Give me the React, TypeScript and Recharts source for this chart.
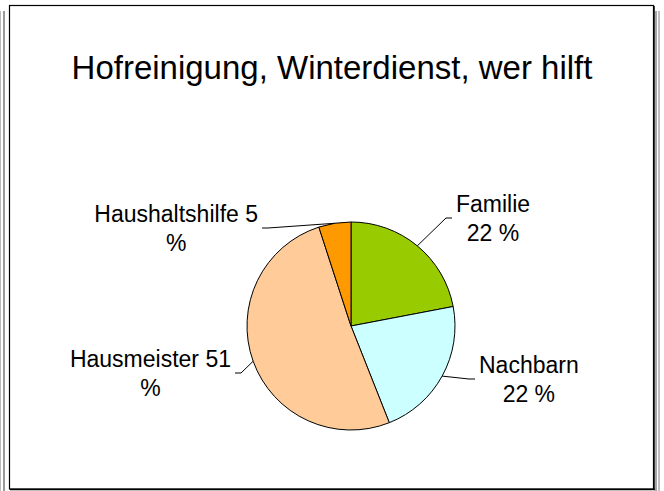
import React from "react";
import { PieChart, Pie, Cell } from "recharts";

const categories = ["Familie", "Nachbarn", "Hausmeister", "Haushaltshilfe"];
const shares = [22, 22, 51, 5];
const sliceColors = ["#99CC00", "#CCFFFF", "#FFCC99", "#FF9900"];
const title = "Hofreinigung, Winterdienst, wer hilft";

const data = categories.map((name, i) => ({ name, value: shares[i] }));

// where each leader line ends (relative to the pie centre) and how wide the label may get before wrapping
const labelLayout = [
  { dx: 101, dy: -108, wrap: 90 },
  { dx: 124, dy: 53, wrap: 115 },
  { dx: -116, dy: 47, wrap: 175 },
  { dx: -89, dy: -98, wrap: 178 },
];

const FONT = "'Liberation Sans', Arial, Helvetica, sans-serif";
const LABEL_SIZE = 23;
const RAD = Math.PI / 180;

let ctx: CanvasRenderingContext2D | null = null;
function measure(s: string) {
  if (!ctx) ctx = document.createElement("canvas").getContext("2d");
  if (!ctx) return s.length * LABEL_SIZE * 0.5;
  ctx.font = `${LABEL_SIZE}px ${FONT}`;
  return ctx.measureText(s).width;
}

function wrap(s: string, max: number) {
  const words = s.split(" ");
  const lines: string[] = [];
  let cur = "";
  for (const w of words) {
    const next = cur ? cur + " " + w : w;
    if (cur && measure(next) > max) {
      lines.push(cur);
      cur = w;
    } else cur = next;
  }
  if (cur) lines.push(cur);
  return lines;
}

function renderLabel(props: any) {
  const { cx, cy, midAngle, outerRadius, index, name, value } = props;
  const lay = labelLayout[index];
  const a = -midAngle * RAD;
  const ex = cx + outerRadius * Math.cos(a);
  const ey = cy + outerRadius * Math.sin(a);
  const tx = cx + lay.dx;
  const ty = cy + lay.dy;
  const side = lay.dx >= 0 ? 1 : -1;
  const lines = wrap(`${name} ${value} %`, lay.wrap);
  const blockW = Math.max(...lines.map(measure));
  const mid = side > 0 ? tx + 4 + blockW / 2 : tx - 4 - blockW / 2;
  return (
    <g key={`lbl-${index}`}>
      <polyline
        points={`${ex},${ey} ${tx - side * 6},${ty} ${tx},${ty}`}
        fill="none"
        stroke="#000"
        strokeWidth={1}
      />
      <text textAnchor="middle" fontFamily={FONT} fontSize={LABEL_SIZE} fill="#000">
        {lines.map((l, i) => (
          <tspan key={i} x={mid} y={ty - 6 + i * 29}>
            {l}
          </tspan>
        ))}
      </text>
    </g>
  );
}

export default function App() {
  return (
    <div style={{ position: "fixed", left: 0, top: 0, width: 664, height: 491, background: "#fff" }}>
      <PieChart width={664} height={491} margin={{ top: 0, right: 0, bottom: 0, left: 0 }}>
        <Pie
          data={data}
          dataKey="value"
          nameKey="name"
          cx={351}
          cy={326}
          outerRadius={104}
          startAngle={90}
          endAngle={-270}
          stroke="#000"
          strokeWidth={1}
          label={renderLabel}
          labelLine={false}
          isAnimationActive={false}
        >
          {data.map((d, i) => (
            <Cell key={d.name} fill={sliceColors[i]} />
          ))}
        </Pie>
      </PieChart>
      <svg
        width={664}
        height={491}
        style={{ position: "absolute", left: 0, top: 0, pointerEvents: "none" }}
      >
        {/* frame */}
        <line x1={0.5} y1={11} x2={0.5} y2={491} stroke="#bbb" strokeWidth={1} />
        <line x1={4} y1={11} x2={4} y2={491} stroke="#999" strokeWidth={2} />
        <line x1={656} y1={11} x2={656} y2={491} stroke="#888" strokeWidth={1.5} />
        <line x1={659} y1={11} x2={659} y2={491} stroke="#aaa" strokeWidth={1.5} />
        <rect x={9.5} y={5.5} width={644} height={483.5} fill="none" stroke="#000" strokeWidth={1.2} />
        <line x1={654} y1={6} x2={654} y2={490} stroke="#000" strokeWidth={1.5} />
        <line x1={10} y1={489.5} x2={655} y2={489.5} stroke="#000" strokeWidth={1.5} />
        <text x={332} y={79} textAnchor="middle" fontFamily={FONT} fontSize={33} fill="#000">
          {title}
        </text>
      </svg>
    </div>
  );
}
